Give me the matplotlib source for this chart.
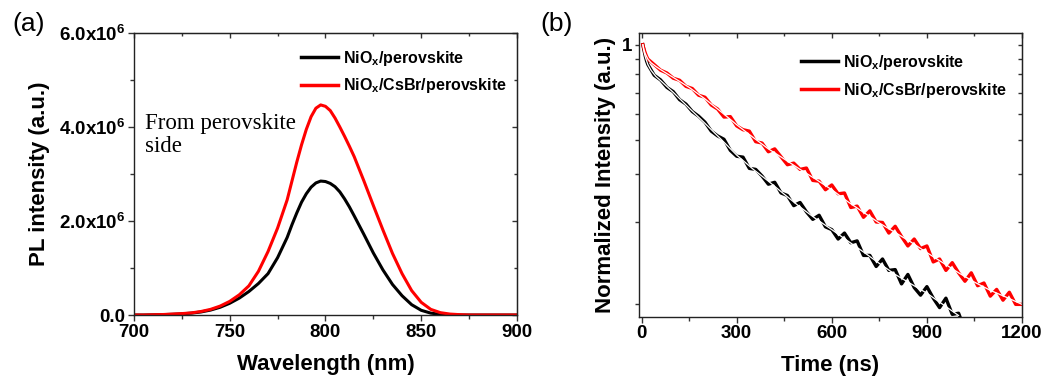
import matplotlib
matplotlib.use("Agg")
import matplotlib.pyplot as plt
from matplotlib.ticker import FixedLocator, MultipleLocator, NullLocator, FuncFormatter

plt.rcParams['font.family'] = ['Liberation Sans', 'DejaVu Sans']
plt.rcParams['font.weight'] = 'bold'
plt.rcParams['axes.labelweight'] = 'bold'
plt.rcParams['mathtext.fontset'] = 'custom'
plt.rcParams['mathtext.bf'] = 'Liberation Sans:bold'
plt.rcParams['mathtext.rm'] = 'Liberation Sans:bold'
plt.rcParams['mathtext.default'] = 'bf'

# ---------------- Panel (a) data: PL spectra ----------------
wavelength = [700, 705, 710, 715, 720, 725, 730, 735, 740, 745, 750, 755, 760, 765, 770, 775,
              780, 782.5, 785, 787.5, 790, 792.5, 795, 797.5, 800, 802.5, 805, 807.5, 810, 812.5,
              815, 820, 825, 830, 835, 840, 845, 850, 855, 860, 865, 870, 875, 880, 885, 890, 895, 900]
pl_nio = [0.0, 0.0, 0.004, 0.008, 0.015, 0.025, 0.04, 0.065, 0.105, 0.165, 0.25, 0.36, 0.50, 0.67, 0.88, 1.22,
          1.65, 1.92, 2.17, 2.40, 2.58, 2.72, 2.81, 2.85, 2.84, 2.80, 2.73, 2.62, 2.47, 2.30,
          2.11, 1.72, 1.32, 0.96, 0.65, 0.41, 0.22, 0.10, 0.04, 0.015, 0.005, 0.0, 0.0, 0.0, 0.0, 0.0, 0.0, 0.0]
pl_csbr = [0.0, 0.0, 0.005, 0.01, 0.02, 0.03, 0.045, 0.075, 0.12, 0.19, 0.29, 0.43, 0.62, 0.93, 1.35, 1.85,
           2.45, 2.85, 3.25, 3.62, 3.95, 4.22, 4.40, 4.47, 4.44, 4.35, 4.19, 4.00, 3.80, 3.59,
           3.37, 2.86, 2.33, 1.81, 1.31, 0.88, 0.52, 0.27, 0.12, 0.05, 0.02, 0.008, 0.0, 0.0, 0.0, 0.0, 0.0, 0.0]
pl_scale = 1e6

# ---------------- Panel (b) data: TRPL decays ----------------
t_data_nio = [4, 8, 12, 16, 20, 40, 60, 80, 100, 120, 140, 160, 180, 200, 220, 240, 260, 280, 300,
              320, 340, 360, 380, 400, 420, 440, 460, 480, 500, 520, 540, 560, 580, 600, 620, 640,
              660, 680, 700, 720, 740, 760, 780, 800, 820, 840, 860, 880, 900, 920, 940, 960, 980, 1000, 1010]
i_data_nio = [1.0, 0.95, 0.905, 0.87, 0.845, 0.772, 0.742, 0.697, 0.672, 0.628, 0.605, 0.568, 0.546, 0.519,
              0.481, 0.462, 0.449, 0.409, 0.389, 0.386, 0.351, 0.348, 0.329, 0.307, 0.312, 0.285, 0.279,
              0.256, 0.263, 0.243, 0.228, 0.236, 0.214, 0.209, 0.193, 0.203, 0.187, 0.190, 0.168, 0.168,
              0.153, 0.163, 0.148, 0.149, 0.132, 0.143, 0.128, 0.120, 0.129, 0.117, 0.108, 0.117, 0.102,
              0.103, 0.096]
t_fit_nio = [4, 8, 12, 20, 30, 45, 60, 80, 100, 150, 200, 250, 300, 350, 400, 450, 500, 550, 600,
             650, 700, 750, 800, 850, 900, 950, 1000]
i_fit_nio = [1.00, 0.94, 0.90, 0.845, 0.805, 0.765, 0.738, 0.702, 0.668, 0.585, 0.514, 0.450, 0.393,
             0.350, 0.315, 0.282, 0.253, 0.229, 0.209, 0.190, 0.173, 0.157, 0.143, 0.132, 0.122, 0.111, 0.101]

t_data_csbr = [4, 8, 12, 16, 20, 40, 60, 80, 100, 120, 140, 160, 180, 200, 220, 240, 260, 280, 300,
               320, 340, 360, 380, 400, 420, 440, 460, 480, 500, 520, 540, 560, 580, 600, 620, 640,
               660, 680, 700, 720, 740, 760, 780, 800, 820, 840, 860, 880, 900, 920, 940, 960, 980,
               1000, 1020, 1040, 1060, 1080, 1100, 1120, 1140, 1160, 1180, 1200]
i_data_csbr = [1.0, 0.96, 0.93, 0.905, 0.885, 0.845, 0.806, 0.787, 0.753, 0.740, 0.703, 0.690, 0.652,
               0.641, 0.600, 0.580, 0.542, 0.544, 0.503, 0.487, 0.481, 0.440, 0.435, 0.404, 0.414,
               0.387, 0.362, 0.367, 0.348, 0.352, 0.317, 0.315, 0.293, 0.305, 0.283, 0.285, 0.252,
               0.255, 0.232, 0.245, 0.223, 0.222, 0.203, 0.215, 0.197, 0.182, 0.193, 0.178, 0.182,
               0.159, 0.163, 0.148, 0.158, 0.145, 0.135, 0.145, 0.130, 0.133, 0.119, 0.126, 0.115,
               0.123, 0.111, 0.111]
t_fit_csbr = [4, 8, 12, 20, 30, 45, 60, 80, 100, 150, 200, 250, 300, 350, 400, 450, 500, 550, 600,
              650, 700, 750, 800, 850, 900, 950, 1000, 1050, 1100, 1150, 1200]
i_fit_csbr = [1.00, 0.955, 0.925, 0.885, 0.858, 0.832, 0.81, 0.783, 0.758, 0.697, 0.632, 0.568, 0.508,
              0.458, 0.414, 0.380, 0.348, 0.320, 0.293, 0.265, 0.242, 0.221, 0.204, 0.188, 0.172,
              0.158, 0.145, 0.134, 0.125, 0.118, 0.111]

label_nio = r"NiO$_{x}$/perovskite"
label_csbr = r"NiO$_{x}$/CsBr/perovskite"
time_ticks = [0, 300, 600, 900, 1200]
norm_ticks = [1/9, 2/9, 3/9, 4/9, 5/9, 6/9, 7/9, 8/9, 1.0]
norm_labels = ['', '', '', '', '', '', '', '', '1']

TICKC = '#333333'

# ---------------- Figure ----------------
fig = plt.figure(figsize=(10.45, 3.76), dpi=100)
ax1 = fig.add_axes([0.1282, 0.1622, 0.3665, 0.75])
ax2 = fig.add_axes([0.6115, 0.1577, 0.3665, 0.7545])

# Panel (a)
ax1.plot(wavelength, [v * pl_scale for v in pl_nio], color='black', lw=2.2, label=label_nio)
ax1.plot(wavelength, [v * pl_scale for v in pl_csbr], color='#ff0000', lw=2.2, label=label_csbr)
ax1.set_xlim(700, 900)
ax1.set_ylim(0, 6e6)
ax1.xaxis.set_major_locator(MultipleLocator(50))
ax1.xaxis.set_minor_locator(MultipleLocator(25))
ax1.yaxis.set_major_locator(MultipleLocator(2e6))
ax1.yaxis.set_minor_locator(MultipleLocator(1e6))

def sci_fmt(v, pos):
    if abs(v) < 1:
        return "0.0"
    return r"%.1fx10$^{6}$" % (v / 1e6)

ax1.yaxis.set_major_formatter(FuncFormatter(sci_fmt))
ax1.tick_params(which='both', direction='out', width=1.0, color=TICKC, labelsize=13.5, pad=2)
ax1.tick_params(which='major', length=4.5)
ax1.tick_params(which='minor', length=3)
for s in ax1.spines.values():
    s.set_linewidth(1.0)
    s.set_color('#222222')
sec = ax1.secondary_xaxis('top')
sec.xaxis.set_major_locator(MultipleLocator(50))
sec.xaxis.set_minor_locator(MultipleLocator(25))
sec.tick_params(which='both', direction='in', labeltop=False, width=1.0, color=TICKC)
sec.tick_params(which='major', length=3.5)
sec.tick_params(which='minor', length=2.5)
sec = ax1.secondary_yaxis('right')
sec.yaxis.set_major_locator(MultipleLocator(2e6))
sec.yaxis.set_minor_locator(MultipleLocator(1e6))
sec.tick_params(which='both', direction='in', labelright=False, width=1.0, color=TICKC)
sec.tick_params(which='major', length=3.5)
sec.tick_params(which='minor', length=2.5)

ax1.set_xlabel("Wavelength (nm)", fontsize=16, fontweight='bold', labelpad=9)
ax1.set_ylabel("PL intensity (a.u.)", fontsize=16, fontweight='bold', labelpad=6)
ax1.text(706, 4.30e6, "From perovskite\nside", family=['Liberation Serif', 'DejaVu Serif'],
         fontweight='normal', fontsize=16.5, va='top', ha='left', linespacing=1.12)
leg1 = ax1.legend(loc='upper left', bbox_to_anchor=(0.407, 0.984), frameon=False,
                  prop={'weight': 'bold', 'size': 11.5}, handlelength=2.3, handletextpad=0.35,
                  labelspacing=0.55, borderpad=0.2)
for h in leg1.get_lines():
    h.set_linewidth(2.5)

# Panel (b)
ax2.plot(t_data_nio, i_data_nio, color='black', lw=2.4, label=label_nio)
ax2.plot(t_data_csbr, i_data_csbr, color='#ff0000', lw=2.4, label=label_csbr)
ax2.plot(t_fit_nio, i_fit_nio, color='white', lw=0.9)
ax2.plot(t_fit_csbr, i_fit_csbr, color='white', lw=0.9)
ax2.set_yscale('log')
ax2.set_xlim(-8, 1200)
ax2.set_ylim(0.100, 1.104)
ax2.set_xticks(time_ticks)
ax2.xaxis.set_minor_locator(MultipleLocator(150))
ax2.yaxis.set_major_locator(FixedLocator(norm_ticks))
ax2.yaxis.set_minor_locator(NullLocator())
ax2.set_yticklabels(norm_labels)
ax2.tick_params(which='both', direction='out', width=1.0, color=TICKC, labelsize=13.5, pad=2)
ax2.tick_params(which='major', length=4)
ax2.tick_params(which='minor', length=3)
ax2.tick_params(axis='y', which='major', length=3)
for s in ax2.spines.values():
    s.set_linewidth(1.0)
    s.set_color('#222222')
secb = ax2.secondary_xaxis('top')
secb.set_xticks(time_ticks)
secb.xaxis.set_minor_locator(MultipleLocator(150))
secb.tick_params(which='both', direction='in', labeltop=False, width=1.0, color=TICKC)
secb.tick_params(which='major', length=3.5)
secb.tick_params(which='minor', length=2.5)
secr = ax2.secondary_yaxis('right')
secr.yaxis.set_major_locator(FixedLocator(norm_ticks))
secr.yaxis.set_minor_locator(NullLocator())
secr.tick_params(which='both', direction='in', labelright=False, width=1.0, color=TICKC, length=3)

ax2.set_xlabel("Time (ns)", fontsize=16, fontweight='bold', labelpad=9)
ax2.set_ylabel("Normalized Intensity (a.u.)", fontsize=16, fontweight='bold', labelpad=4)
leg2 = ax2.legend(loc='upper left', bbox_to_anchor=(0.394, 0.969), frameon=False,
                  prop={'weight': 'bold', 'size': 11.5}, handlelength=2.3, handletextpad=0.35,
                  labelspacing=0.55, borderpad=0.2)
for h in leg2.get_lines():
    h.set_linewidth(2.5)

fig.text(0.027, 0.935, "(a)", fontsize=19, fontweight='normal', ha='center', va='center')
fig.text(0.533, 0.935, "(b)", fontsize=19, fontweight='normal', ha='center', va='center')

fig.savefig("out.png", dpi=100)
